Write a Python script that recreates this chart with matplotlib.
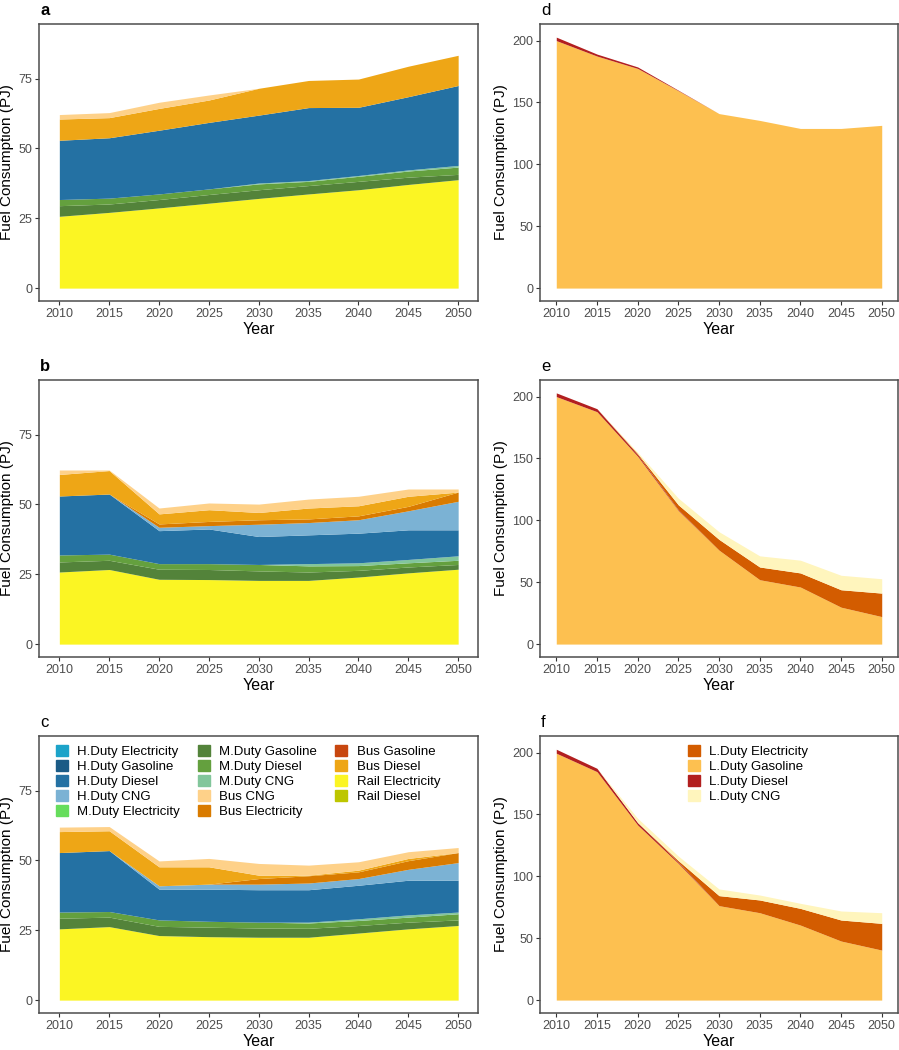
import matplotlib
matplotlib.use("Agg")
import matplotlib.pyplot as plt
from matplotlib.patches import Patch

plt.rcParams['font.family'] = ['Liberation Sans', 'DejaVu Sans']

years = [2010, 2015, 2020, 2025, 2030, 2035, 2040, 2045, 2050]

# legend order (ggplot factor order)
categories = ['H.Duty Electricity', 'H.Duty Gasoline', 'H.Duty Diesel', 'H.Duty CNG',
              'M.Duty Electricity', 'M.Duty Gasoline', 'M.Duty Diesel', 'M.Duty CNG',
              'Bus CNG', 'Bus Electricity', 'Bus Gasoline', 'Bus Diesel',
              'Rail Electricity', 'Rail Diesel']
colors = ['#1CA3C9', '#1B5B86', '#2471A3', '#7BB2D4',
          '#66DD5C', '#53833A', '#64A03E', '#82C69B',
          '#FED189', '#D97B00', '#C8470F', '#EEA616',
          '#FBF523', '#BDC600']
# stacking order, bottom to top
stack_order = ['Rail Diesel', 'Rail Electricity', 'M.Duty Gasoline', 'M.Duty Diesel',
               'M.Duty CNG', 'M.Duty Electricity', 'H.Duty Gasoline', 'H.Duty Diesel',
               'H.Duty Electricity', 'H.Duty CNG', 'Bus Electricity', 'Bus Gasoline',
               'Bus Diesel', 'Bus CNG']

# freight / bus / rail (PJ), panels a-c; categories not listed are zero
panel_a = {
    'Rail Electricity': [25.7, 27.1, 28.7, 30.4, 32.1, 33.7, 35.2, 37.1, 38.8],
    'M.Duty Gasoline': [3.8, 3.0, 3.0, 3.1, 3.1, 3.0, 3.0, 2.6, 1.9],
    'M.Duty Diesel': [2.2, 2.1, 2.0, 2.0, 2.1, 1.5, 1.8, 2.2, 2.6],
    'M.Duty CNG': [0, 0, 0, 0, 0.3, 0.3, 0.3, 0.4, 0.6],
    'H.Duty Diesel': [21.2, 21.6, 22.8, 23.8, 24.3, 26.1, 24.4, 26.2, 28.6],
    'Bus Diesel': [7.6, 7.2, 7.8, 8.0, 9.6, 9.7, 10.1, 10.9, 10.8],
    'Bus CNG': [1.6, 1.8, 2.2, 1.8, 0, 0, 0, 0, 0],
}
panel_b = {
    'Rail Electricity': [25.8, 26.7, 23.2, 23.1, 22.8, 22.8, 24.0, 25.5, 26.8],
    'M.Duty Gasoline': [3.6, 3.3, 3.6, 3.6, 3.4, 3.0, 2.4, 2.1, 1.7],
    'M.Duty Diesel': [2.5, 2.2, 2.0, 2.1, 2.3, 2.2, 1.7, 1.5, 1.5],
    'M.Duty CNG': [0, 0, 0, 0, 0, 0.8, 1.0, 1.2, 1.6],
    'H.Duty Diesel': [21.1, 21.5, 11.8, 12.4, 10.0, 10.3, 10.6, 10.6, 9.3],
    'H.Duty CNG': [0, 0, 1.2, 1.2, 4.4, 4.4, 4.8, 6.8, 10.2],
    'Bus Electricity': [0, 0, 1.2, 1.5, 1.6, 1.3, 1.4, 1.6, 3.3],
    'Bus Diesel': [7.7, 8.4, 3.6, 4.2, 2.6, 3.9, 3.6, 3.6, 0],
    'Bus CNG': [1.6, 0.2, 2.1, 2.4, 3.0, 3.2, 3.4, 2.6, 1.1],
}
panel_c = {
    'Rail Electricity': [25.5, 26.3, 23.1, 22.7, 22.5, 22.5, 24.0, 25.5, 26.7],
    'M.Duty Gasoline': [3.8, 3.4, 3.3, 3.4, 3.3, 3.2, 2.7, 2.4, 2.0],
    'M.Duty Diesel': [2.2, 2.0, 2.3, 2.1, 2.1, 1.9, 1.8, 1.8, 2.2],
    'M.Duty CNG': [0, 0, 0, 0, 0, 0.3, 0.6, 0.8, 0.6],
    'H.Duty Diesel': [21.3, 21.8, 11.0, 11.5, 11.6, 11.6, 12.0, 12.4, 11.4],
    'H.Duty CNG': [0, 0, 1.2, 1.8, 2.0, 2.4, 2.4, 3.9, 6.3],
    'Bus Electricity': [0, 0, 0, 0, 2.0, 2.6, 2.4, 3.1, 3.6],
    'Bus Diesel': [7.5, 7.1, 6.8, 6.2, 1.2, 0.2, 0.6, 0.8, 0],
    'Bus CNG': [1.6, 1.5, 2.1, 3.0, 4.2, 3.6, 3.0, 2.4, 1.8],
}

# light duty (PJ), panels d-f
ld_categories = ['L.Duty Electricity', 'L.Duty Gasoline', 'L.Duty Diesel', 'L.Duty CNG']
ld_colors = ['#D35C00', '#FDC050', '#B21F1F', '#FFF5BD']
ld_stack_order = ['L.Duty Gasoline', 'L.Duty Diesel', 'L.Duty Electricity', 'L.Duty CNG']

panel_d = {
    'L.Duty Gasoline': [200, 187.5, 177.5, 159.5, 141, 135.5, 129, 129, 131.5],
    'L.Duty Diesel': [2.8, 1.6, 1.2, 0.4, 0, 0, 0, 0, 0],
}
panel_e = {
    'L.Duty Gasoline': [200, 187.8, 151.8, 107.9, 75.9, 52.0, 46.1, 29.8, 22.2],
    'L.Duty Diesel': [3.0, 2.4, 1.3, 0.5, 0, 0, 0, 0, 0],
    'L.Duty Electricity': [0, 0, 0.8, 4.1, 8.7, 10.3, 11.4, 14.1, 19.0],
    'L.Duty CNG': [0, 0, 1.1, 5.4, 6.2, 9.0, 10.3, 11.7, 11.6],
}
panel_f = {
    'L.Duty Gasoline': [199.5, 184.6, 141.5, 110.5, 76.3, 70.6, 60.6, 47.7, 40.4],
    'L.Duty Diesel': [3.2, 2.7, 1.9, 1.0, 0, 0, 0, 0, 0],
    'L.Duty Electricity': [0, 0, 0, 1.2, 8.1, 10.3, 13.5, 17.0, 21.6],
    'L.Duty CNG': [0, 0, 3.5, 3.7, 5.4, 4.0, 4.1, 7.3, 8.6],
}

W, H = 899, 1050
fig = plt.figure(figsize=(W / 100, H / 100), dpi=100)


def px_axes(l, t, r, b):
    return fig.add_axes([l / W, 1 - b / H, (r - l) / W, (b - t) / H])


def draw_stack(ax, data, order, cats, cols):
    base = [0.0] * len(years)
    for name in order:
        if name not in data:
            continue
        vals = data[name]
        top = [b + v for b, v in zip(base, vals)]
        ax.fill_between(years, base, top, color=cols[cats.index(name)], lw=0)
        base = top


def style(ax, yticks, ylim, letter, bold):
    ax.set_xlim(2008, 2052)
    ax.set_ylim(*ylim)
    ax.set_xticks(years)
    ax.set_yticks(yticks)
    for s in ax.spines.values():
        s.set_color('#4D4D4D')
        s.set_linewidth(1.1)
    ax.tick_params(colors='#333333', labelcolor='#4D4D4D', labelsize=9,
                   length=3, width=0.8, pad=2)
    ax.set_xlabel('Year', fontsize=11.5, labelpad=1.5)
    ax.set_ylabel('Fuel Consumption (PJ)', fontsize=11, labelpad=3)
    bb = ax.get_position()
    fig.text(bb.x0 + 1 / W, bb.y1 + 6 / H, letter, fontsize=12,
             fontweight='bold' if bold else 'normal', va='bottom', ha='left')


legend_kw = dict(loc='upper left', frameon=False, fontsize=9.5,
                 handlelength=0.9, handleheight=0.9, handletextpad=0.7,
                 labelspacing=0.15, borderpad=0, borderaxespad=0)

left_rows = [(24, 300.7), (380, 656.7), (736, 1012.7)]
big_panels = [panel_a, panel_b, panel_c]
ld_panels = [panel_d, panel_e, panel_f]

for i, (t, b) in enumerate(left_rows):
    ax = px_axes(39.4, t, 478.1, b)
    draw_stack(ax, big_panels[i], stack_order, categories, colors)
    style(ax, [0, 25, 50, 75], (-4.5, 94.5), 'abc'[i], i < 2)
    if i == 2:
        handles = [Patch(color=c, label=n) for n, c in zip(categories, colors)]
        ax.legend(handles=handles, ncol=3, bbox_to_anchor=(0.037, 0.966),
                  columnspacing=1.4, **legend_kw)

    ax2 = px_axes(540, t, 898, b)
    draw_stack(ax2, ld_panels[i], ld_stack_order, ld_categories, ld_colors)
    style(ax2, [0, 50, 100, 150, 200], (-10.2, 213.4), 'def'[i], False)
    if i == 2:
        handles = [Patch(color=c, label=n) for n, c in zip(ld_categories, ld_colors)]
        ax2.legend(handles=handles, bbox_to_anchor=(0.414, 0.966), **legend_kw)

fig.savefig('out.png', dpi=100)
